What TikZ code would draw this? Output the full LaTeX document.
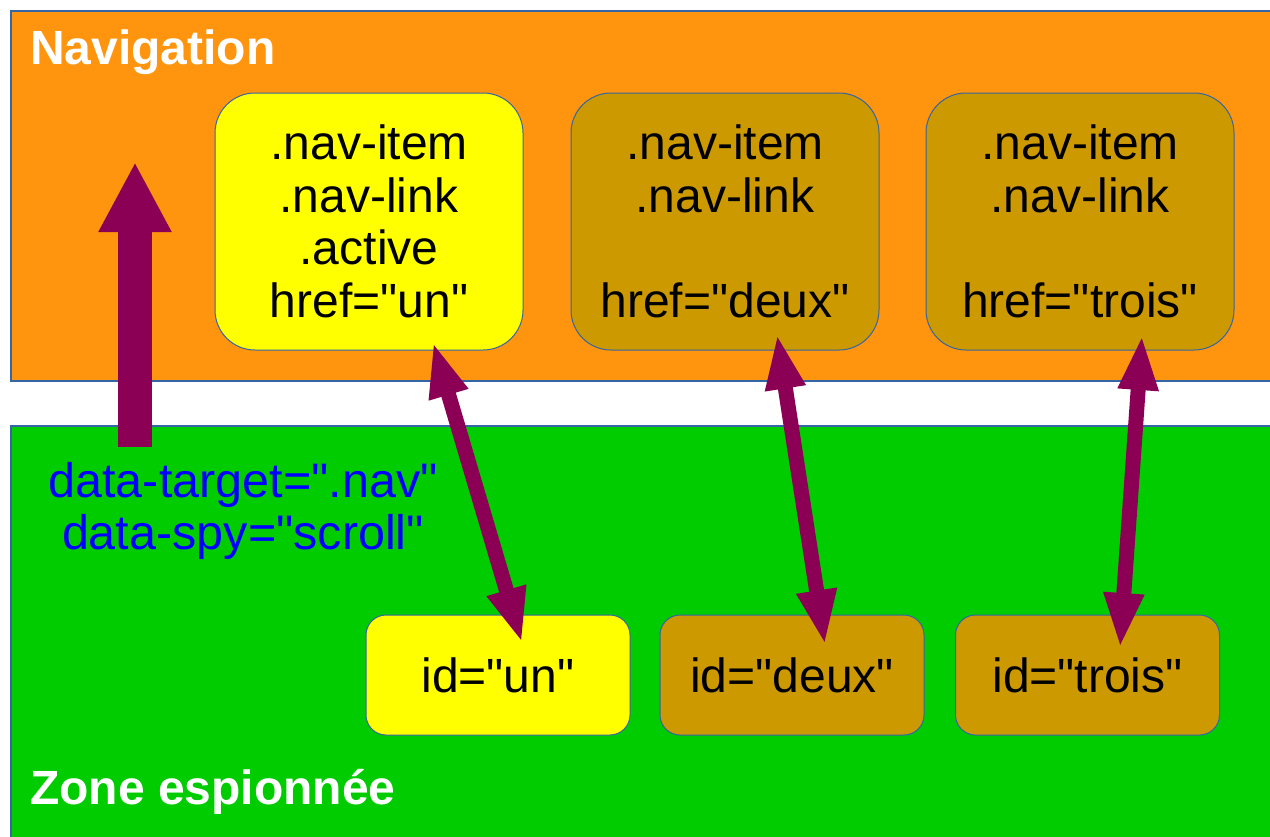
\documentclass[tikz,border=0pt]{standalone}
\usepackage{fontspec}
\setmainfont{Liberation Sans}[Ligatures=TeXOff]
\usetikzlibrary{arrows.meta}
\definecolor{navorange}{RGB}{255,149,14}
\definecolor{spygreen}{RGB}{0,204,0}
\definecolor{boxyellow}{RGB}{255,255,0}
\definecolor{boxgold}{RGB}{204,153,0}
\definecolor{arrowpurple}{RGB}{139,0,85}
\definecolor{edgeblue}{RGB}{52,101,164}
\definecolor{textblue}{RGB}{0,0,255}
\begin{document}
\begin{tikzpicture}[x=1pt,y=-1pt,
  zone/.style={draw=edgeblue, line width=1.5pt, anchor=north west, inner sep=0pt},
  title/.style={text=white, font=\fontsize{48}{54}\selectfont\bfseries, anchor=base west, inner sep=0pt},
  navbox/.style={draw=edgeblue, line width=1pt, rounded corners=40pt, minimum width=308pt, minimum height=257pt, align=center, inner sep=0pt, font=\fontsize{48}{52.5}\selectfont},
  idbox/.style={draw=edgeblue, line width=1pt, rounded corners=20pt, minimum width=264pt, minimum height=120pt, inner sep=0pt, font=\fontsize{48}{52.5}\selectfont},
  linkarrow/.style={draw=arrowpurple, line width=15pt, {Triangle[length=55pt,width=37pt]}-{Triangle[length=55pt,width=37pt]}},
  uparrow/.style={draw=arrowpurple, line width=34pt, -{Triangle[length=70pt,width=68pt]}}
]
\useasboundingbox (0,0) rectangle (1270,836);
\fill[white] (0,0) rectangle (1270,836);
\node[zone, fill=navorange, minimum width=1280pt, minimum height=370pt] (navzone) at (10,10) {};
\node[zone, fill=spygreen, minimum width=1280pt, minimum height=430pt] (spyzone) at (10,425) {};
\node[title] (navtitle) at (30,64) {Navigation};
\node[title] (spytitle) at (30,804) {Zone espionnée};

\node[navbox, fill=boxyellow] (nav1) at (369,221.5) {.nav-item\\.nav-link\\.active\\href="un"};
\node[navbox, fill=boxgold] (nav2) at (725,221.5) {.nav-item\\.nav-link\\\mbox{}\\href="deux"};
\node[navbox, fill=boxgold] (nav3) at (1080,221.5) {.nav-item\\.nav-link\\\mbox{}\\href="trois"};

\node[idbox, fill=boxyellow] (id1) at (498,675) {id="un"};
\node[idbox, fill=boxgold] (id2) at (792,675) {id="deux"};
\node[idbox, fill=boxgold] (id3) at (1087.5,675) {id="trois"};

\node[text=textblue, align=center, inner sep=0pt, font=\fontsize{48.5}{52}\selectfont] (spyattr) at (243,511) {data-target=".nav"\\data-spy="scroll"};

\coordinate (upfoot) at (135,447);
\coordinate (uptip) at (135,162);
\draw[uparrow] (upfoot) -- (uptip);

\coordinate (t1) at (433,342);
\coordinate (b1) at (522,643);
\coordinate (t2) at (777,334);
\coordinate (b2) at (825,645);
\coordinate (t3) at (1142,335);
\coordinate (b3) at (1120,648);
\draw[linkarrow] (t1) -- (b1);
\draw[linkarrow] (t2) -- (b2);
\draw[linkarrow] (t3) -- (b3);
\end{tikzpicture}
\end{document}
